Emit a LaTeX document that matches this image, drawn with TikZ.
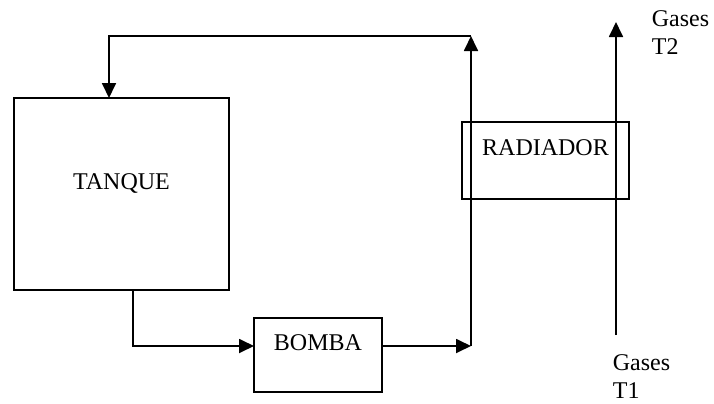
\documentclass[tikz,border=0pt]{standalone}
\usepackage{fontspec}
\setmainfont{Liberation Serif}
\usetikzlibrary{arrows.meta,positioning}

\begin{document}
\begin{tikzpicture}[x=0.5pt, y=-0.5pt, >={Triangle[length=7.5pt,width=7pt]},
  line width=0.9pt,
  eq/.style={draw, rectangle, inner sep=0pt, text depth=12.5pt,
    font=\fontsize{12}{14.5}\selectfont},
  lbl/.style={align=left, inner sep=0pt, font=\fontsize{12}{14}\selectfont}]
\useasboundingbox (0,0) rectangle (714,403);
% equipos
\node[eq, minimum width=107.5pt, minimum height=96pt] (tanque) at (121.5,194) {TANQUE};
\node[eq, minimum width=64pt, minimum height=37pt] (bomba) at (318,355) {BOMBA};
% puntos de union
\coordinate (tk out) at (133,290);
\coordinate (tk in) at (109,98);
\coordinate (bb in) at (254,346);
\coordinate (bb out) at (382,346);
\coordinate (riser) at (471,346);
\coordinate (top) at (471,36);
\draw[->] (tk out) |- (bb in);
\draw[->] (bb out) -- (riser);
\draw[->] (riser) -- (top);
\draw[->] (top) -| (tk in);
% gases
\coordinate (g in) at (616,335);
\coordinate (g out) at (616,22);
\draw[->] (g in) -- (g out);
\node[eq, minimum width=83.5pt, minimum height=38.5pt] (radiador) at (545.5,160.5) {RADIADOR};
\node[lbl, anchor=north west] (t2) at (651,10) {Gases\\T2};
\node[lbl, anchor=north west] (t1) at (612,354) {Gases\\T1};
\end{tikzpicture}
\end{document}
